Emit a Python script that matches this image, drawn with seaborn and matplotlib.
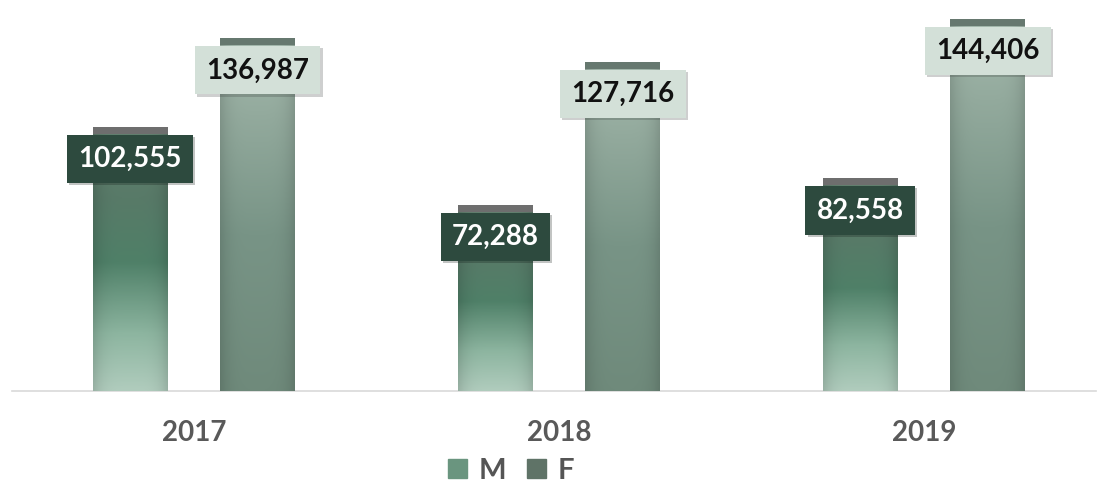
import numpy as np
import pandas as pd
import matplotlib.pyplot as plt
import matplotlib.patches as mpatches
import matplotlib.patheffects as pe
from matplotlib.colors import LinearSegmentedColormap
import seaborn as sns

years = ['2017', '2018', '2019']
male = [102555, 72288, 82558]
female = [136987, 127716, 144406]

df = pd.DataFrame({
    'Year': years * 2,
    'Count': male + female,
    'Sex': ['M'] * 3 + ['F'] * 3
})

sns.set_theme(style='white')
plt.rcParams['font.family'] = ['Lato', 'DejaVu Sans']

fig = plt.figure(figsize=(10.97, 4.87), dpi=100)
ax = fig.add_axes([0, 96 / 487, 1, 391 / 487])

sns.barplot(data=df, x='Year', y='Count', hue='Sex', hue_order=['M', 'F'],
            width=0.70, gap=0.413, palette=['#6a957f', '#7a9586'],
            legend=False, ax=ax, zorder=2)

# gradient fills (bottom -> top)
m_cmap = LinearSegmentedColormap.from_list('m', [
    (0.0, '#b0ccbd'), (0.22, '#8db5a0'), (0.5, '#4f8068'),
    (0.75, '#587a68'), (1.0, '#62806f')])
f_cmap = LinearSegmentedColormap.from_list('f', [
    (0.0, '#6f8a7b'), (0.45, '#789486'), (0.8, '#93aa9d'), (1.0, '#a3b8ac')])

cap_h = 2700
n = len(years)
for i, p in enumerate(ax.patches[:2 * n]):
    cmap = m_cmap if i < n else f_cmap
    x0, w, h = p.get_x(), p.get_width(), p.get_height()
    v = np.linspace(0, 1, 200)[:, None]
    u = np.linspace(-1, 1, 60)[None, :]
    rgb = cmap(v)[:, :, :3].repeat(60, axis=1)
    shade = 1 - 0.13 * np.abs(u) ** 4
    rgb = rgb * shade[:, :, None]
    im = ax.imshow(rgb, extent=(x0, x0 + w, 0, h - cap_h), origin='lower',
                   aspect='auto', zorder=3)
    im.set_clip_path(p)
    capc = '#6e6e6e' if i < n else '#66786f'
    ax.add_patch(mpatches.Rectangle((x0, h - cap_h), w, cap_h,
                                    color=capc, zorder=3, lw=0))
    if i < n:
        fc, tc = '#2d4a3e', 'white'
    else:
        fc, tc = '#d3e0d8', '#111111'
    a = ax.annotate(f'{int(h):,}', xy=(x0 + w / 2, h), xytext=(0, -32),
                    textcoords='offset pixels', ha='center', va='center',
                    fontsize=20, fontweight='bold', color=tc, zorder=5,
                    bbox=dict(boxstyle='square,pad=0.4', fc=fc, ec='none'))
    a.get_bbox_patch().set_path_effects(
        [pe.SimplePatchShadow(offset=(1.5, -1.5), alpha=0.25), pe.Normal()])

ax.set_xlim(-194 / 365, (1097 - 194) / 365)
ax.set_ylim(0, 151900)
ax.set_xlabel('')
ax.set_ylabel('')
ax.set_yticks([])
for s in ['top', 'left', 'right']:
    ax.spines[s].set_visible(False)
ax.spines['bottom'].set_color('#d9d9d9')
ax.spines['bottom'].set_linewidth(1.2)
ax.spines['bottom'].set_bounds(-0.5, 2.47)
ax.tick_params(axis='x', length=0, pad=21, labelsize=20, labelcolor='#595959')
for t in ax.get_xticklabels():
    t.set_fontweight('bold')

handles = [mpatches.Patch(color='#6a957f', label='M'),
           mpatches.Patch(color='#5f7367', label='F')]
fig.legend(handles=handles, loc='center', bbox_to_anchor=(511 / 1097, 1 - 471 / 487),
           ncol=2, frameon=False, handlelength=0.65, handleheight=0.65,
           handletextpad=0.4, columnspacing=0.72, borderpad=0.1,
           prop={'size': 21, 'weight': 'bold'}, labelcolor='#555555')

fig.savefig('out.png', dpi=100)
